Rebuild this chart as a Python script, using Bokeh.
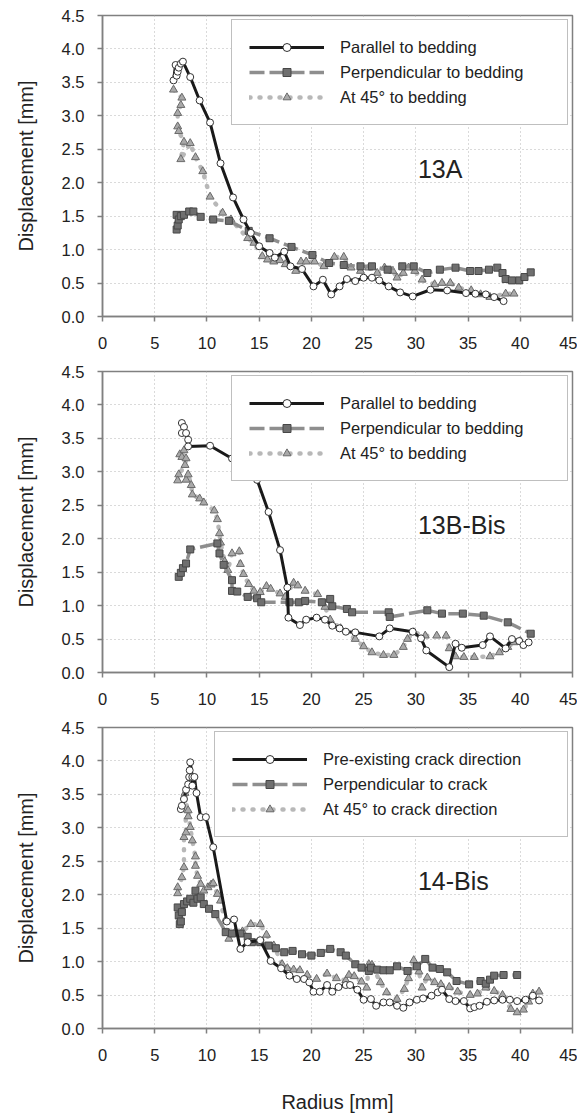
from bokeh.plotting import figure
from bokeh.layouts import column
from bokeh.models import Range1d, FixedTicker, PrintfTickFormatter, Legend, LegendItem, Label
from bokeh.embed import file_html
from bokeh.resources import INLINE

# ---------------- data ----------------
x_ticks = [0, 5, 10, 15, 20, 25, 30, 35, 40, 45]
y_ticks = [0.0, 0.5, 1.0, 1.5, 2.0, 2.5, 3.0, 3.5, 4.0, 4.5]

panel_names = ["13A", "13B-Bis", "14-Bis"]
legend_labels = [
    ["Parallel to bedding", "Perpendicular to bedding", "At 45\u00b0 to bedding"],
    ["Parallel to bedding", "Perpendicular to bedding", "At 45\u00b0 to bedding"],
    ["Pre-existing crack direction", "Perpendicular to crack", "At 45\u00b0 to crack direction"],
]

# 13A
par1_x = [6.8, 7.0, 7.1, 7.2, 7.3, 7.5, 7.7, 8.4, 9.3, 10.3, 11.3, 12.5, 13.5, 14.2, 15.0, 16.0, 16.5, 17.4, 18.0,
          19.1, 20.2, 21.1, 21.9, 22.7, 23.4, 24.2, 25.0, 25.8, 26.5, 27.4, 28.5, 29.7, 31.4, 33.0, 34.8, 35.7,
          36.7, 37.5, 38.4]
par1_y = [3.53, 3.76, 3.60, 3.66, 3.72, 3.78, 3.81, 3.58, 3.23, 2.90, 2.29, 1.78, 1.45, 1.25, 1.05, 0.95, 0.88, 0.97,
          0.75, 0.71, 0.45, 0.55, 0.33, 0.45, 0.56, 0.53, 0.58, 0.58, 0.54, 0.45, 0.36, 0.30, 0.40, 0.39, 0.35, 0.34,
          0.33, 0.29, 0.23]
perp1_x = [7.1, 7.1, 7.2, 7.3, 7.5, 7.8, 8.3, 8.7, 9.4, 10.6, 12.1, 14.0, 16.0, 18.1, 20.1, 21.7, 23.1, 24.7, 25.8,
           27.3, 28.7, 29.8, 31.1, 32.3, 33.8, 35.2, 36.0, 37.0, 37.8, 38.3, 38.6, 39.2, 39.9, 40.4, 41.0]
perp1_y = [1.52, 1.30, 1.36, 1.45, 1.50, 1.52, 1.57, 1.57, 1.49, 1.45, 1.43, 1.28, 1.17, 1.04, 0.92, 0.80, 0.77,
           0.75, 0.75, 0.70, 0.75, 0.75, 0.65, 0.70, 0.73, 0.68, 0.68, 0.70, 0.73, 0.65, 0.56, 0.54, 0.54, 0.59, 0.66]
diag1_x = [6.8, 7.6, 7.5, 7.2, 7.2, 7.3, 7.8, 7.5, 8.4, 8.9, 9.6, 10.3, 11.5, 12.3, 13.9, 14.5, 15.3, 15.8, 16.4,
           17.0, 17.5, 18.5, 19.0, 19.5, 20.3, 21.2, 22.2, 23.1, 23.8, 24.7, 25.5, 26.3, 27.0, 27.8, 28.2, 28.8,
           29.3, 29.9, 30.6, 31.8, 32.5, 33.3, 34.1, 35.3, 36.2, 37.1, 38.6, 39.4]
diag1_y = [3.39, 3.27, 3.16, 3.04, 2.84, 2.77, 2.61, 2.35, 2.59, 2.38, 2.17, 1.79, 1.55, 1.45, 1.17, 1.10, 0.90,
           0.85, 0.82, 0.84, 0.78, 0.68, 0.82, 0.82, 0.82, 0.75, 0.89, 0.89, 0.73, 0.68, 0.73, 0.65, 0.73, 0.68,
           0.58, 0.65, 0.73, 0.68, 0.55, 0.48, 0.50, 0.50, 0.43, 0.39, 0.33, 0.29, 0.34, 0.34]

# 13B-Bis
par2_x = [7.6, 7.8, 7.6, 8.0, 8.2, 8.2, 10.3, 12.4, 13.9, 14.8, 15.9, 17.0, 17.7, 17.8, 18.9, 19.5, 20.5, 21.3, 22.0,
          22.7, 23.3, 24.2, 26.5, 27.5, 29.7, 30.5, 31.0, 33.2, 33.8, 34.4, 36.4, 37.1, 38.6, 39.2, 39.9, 40.3, 40.8]
par2_y = [3.73, 3.67, 3.58, 3.58, 3.48, 3.38, 3.39, 3.20, 3.02, 2.88, 2.40, 1.83, 1.27, 0.82, 0.71, 0.79, 0.82, 0.79,
          0.70, 0.66, 0.61, 0.60, 0.54, 0.66, 0.61, 0.51, 0.33, 0.08, 0.43, 0.37, 0.41, 0.54, 0.36, 0.50, 0.47, 0.41,
          0.45]
perp2_x = [7.3, 7.5, 7.7, 8.0, 8.4, 11.0, 11.2, 11.6, 12.4, 12.4, 12.9, 13.9, 14.8, 15.2, 17.9, 18.8, 19.4, 21.0,
           21.8, 22.0, 23.4, 23.9, 27.4, 27.5, 31.1, 32.5, 34.5, 36.5, 38.8, 41.0]
perp2_y = [1.43, 1.49, 1.56, 1.63, 1.84, 1.93, 1.78, 1.61, 1.38, 1.22, 1.21, 1.13, 1.11, 1.05, 1.05, 1.05, 1.07,
           1.05, 1.10, 0.99, 0.95, 0.90, 0.90, 0.83, 0.93, 0.88, 0.88, 0.85, 0.75, 0.58]
diag2_x = [7.4, 7.8, 7.6, 8.0, 7.9, 7.3, 7.2, 8.0, 8.2, 8.5, 8.6, 9.3, 9.7, 10.7, 11.0, 11.2, 11.3, 11.7, 12.0, 12.4,
           13.1, 13.2, 13.5, 14.0, 14.5, 15.1, 15.7, 16.1, 17.0, 17.5, 18.3, 18.7, 19.4, 20.6, 21.3, 21.8, 22.8,
           24.2, 25.0, 25.8, 26.9, 27.9, 28.8, 29.2, 29.8, 30.9, 32.0, 32.9, 33.2, 33.8, 34.6, 35.6, 37.1, 38.0,
           38.8, 39.4, 40.0]
diag2_y = [3.26, 3.32, 3.22, 3.20, 3.10, 2.96, 2.87, 2.88, 2.96, 2.80, 2.66, 2.60, 2.54, 2.42, 2.29, 2.08, 1.94,
           1.66, 1.53, 1.78, 1.81, 1.62, 1.47, 1.32, 1.22, 1.20, 1.29, 1.25, 1.18, 1.13, 1.34, 1.30, 1.22, 1.17,
           0.98, 0.79, 0.66, 0.50, 0.39, 0.30, 0.26, 0.26, 0.38, 0.50, 0.60, 0.55, 0.55, 0.55, 0.36, 0.24, 0.23,
           0.23, 0.24, 0.30, 0.38, 0.45, 0.47]

# 14-Bis
par3_x = [7.5, 7.6, 7.8, 8.0, 8.2, 8.3, 8.35, 8.4, 8.6, 8.6, 8.8, 9.0, 9.4, 9.9, 10.6, 11.9, 12.6, 13.2, 13.9, 15.1,
          16.1, 17.1, 17.9, 18.6, 19.3, 19.8, 20.2, 20.8, 21.5, 22.0, 22.6, 23.3, 23.7, 24.4, 25.0, 25.7, 26.2,
          26.9, 27.5, 28.2, 28.8, 29.4, 30.1, 30.7, 31.5, 32.1, 32.5, 33.2, 33.8, 34.6, 35.2, 35.6, 36.1, 36.8,
          37.5, 38.3, 39.0, 39.7, 40.5, 41.2, 41.8]
par3_y = [3.28, 3.33, 3.43, 3.57, 3.65, 3.76, 3.86, 3.98, 3.76, 3.63, 3.76, 3.52, 3.16, 3.16, 2.71, 1.60, 1.63, 1.19,
          1.29, 1.32, 1.01, 0.90, 0.79, 0.74, 0.74, 0.69, 0.55, 0.55, 0.65, 0.55, 0.62, 0.65, 0.65, 0.58, 0.43,
          0.44, 0.34, 0.39, 0.39, 0.34, 0.31, 0.39, 0.43, 0.45, 0.49, 0.54, 0.58, 0.44, 0.41, 0.41, 0.30, 0.32,
          0.34, 0.40, 0.42, 0.43, 0.43, 0.41, 0.43, 0.49, 0.42]
perp3_x = [7.2, 7.3, 7.4, 7.5, 7.6, 7.8, 8.1, 8.4, 8.7, 8.9, 9.1, 9.4, 9.7, 10.2, 10.8, 11.8, 12.4, 13.2, 13.9, 14.3,
           15.1, 15.9, 16.6, 17.4, 18.2, 19.1, 20.0, 20.9, 21.8, 22.8, 23.3, 24.2, 24.8, 25.5, 25.7, 26.3, 26.9,
           27.5, 28.2, 29.2, 30.1, 30.9, 31.6, 32.3, 33.0, 33.9, 35.1, 36.2, 36.7, 37.1, 37.5, 38.4, 39.7]
perp3_y = [1.81, 1.69, 1.56, 1.60, 1.74, 1.86, 1.90, 1.94, 1.88, 2.06, 1.94, 1.96, 1.86, 1.79, 1.71, 1.44, 1.42,
           1.42, 1.37, 1.29, 1.29, 1.24, 1.20, 1.14, 1.16, 1.11, 1.09, 1.13, 1.19, 1.14, 1.09, 0.96, 0.91, 0.86,
           0.91, 0.88, 0.87, 0.87, 0.93, 0.86, 0.93, 1.04, 0.91, 0.89, 0.84, 0.71, 0.66, 0.71, 0.67, 0.73, 0.79,
           0.80, 0.80]
diag3_x = [7.2, 7.2, 7.6, 7.8, 7.8, 8.0, 7.9, 8.2, 8.2, 8.4, 8.6, 8.9, 8.9, 9.1, 9.4, 9.7, 10.1, 10.4, 10.6, 11.0,
           11.3, 11.7, 12.1, 12.7, 13.4, 14.2, 15.1, 15.7, 16.4, 17.2, 17.7, 18.3, 18.9, 19.6, 20.5, 21.5, 22.4,
           23.3, 23.6, 24.1, 24.8, 25.3, 25.5, 25.8, 26.6, 27.2, 28.2, 28.9, 29.3, 29.8, 30.3, 30.6, 31.1, 31.8,
           32.4, 33.2, 34.0, 35.2, 35.9, 36.7, 37.5, 38.3, 39.1, 39.7, 40.3, 40.8, 41.2, 41.8]
diag3_y = [2.11, 2.02, 2.26, 2.41, 2.86, 2.93, 3.52, 3.17, 3.26, 3.01, 2.81, 2.57, 2.43, 2.28, 2.16, 2.06, 2.11,
           2.15, 2.17, 2.01, 1.91, 1.60, 1.34, 1.44, 1.45, 1.56, 1.56, 1.40, 1.24, 0.96, 0.90, 0.88, 0.87, 0.80,
           0.74, 0.82, 0.75, 0.72, 0.80, 0.78, 0.70, 0.61, 0.96, 0.95, 0.69, 0.54, 0.44, 0.59, 0.75, 1.02, 0.85,
           0.61, 0.76, 0.69, 0.66, 0.62, 0.55, 0.50, 0.52, 0.61, 0.56, 0.50, 0.29, 0.24, 0.28, 0.40, 0.52, 0.55]

panels = [
    (par1_x, par1_y, perp1_x, perp1_y, diag1_x, diag1_y),
    (par2_x, par2_y, perp2_x, perp2_y, diag2_x, diag2_y),
    (par3_x, par3_y, perp3_x, perp3_y, diag3_x, diag3_y),
]

# ---------------- styling ----------------
FONT = "Liberation Sans"
TXT = "#222222"
AX = "#808080"

figs = []
for i, (px, py, qx, qy, dx, dy) in enumerate(panels):
    last = i == 2
    top = 15 if i == 0 else 7
    bottom = 89 if last else 48
    height = top + 301 + bottom
    p = figure(width=577, height=height, output_backend="svg", toolbar_location=None,
               x_range=Range1d(0, 45), y_range=Range1d(0, 4.5),
               min_border_left=102, min_border_right=5, min_border_top=top, min_border_bottom=bottom,
               background_fill_color="white", border_fill_color="white")
    p.outline_line_color = AX
    p.outline_line_width = 1.5

    for ax, ticks, fmt in ((p.xaxis[0], x_ticks, "%d"), (p.yaxis[0], y_ticks, "%.1f")):
        ax.ticker = FixedTicker(ticks=ticks)
        ax.formatter = PrintfTickFormatter(format=fmt)
        ax.axis_line_color = AX
        ax.axis_line_width = 1.5
        ax.major_tick_line_color = AX
        ax.major_tick_line_width = 1.5
        ax.major_tick_out = 5
        ax.major_tick_in = 0
        ax.minor_tick_line_color = None
        ax.major_label_text_font = FONT
        ax.major_label_text_font_size = "16.5px"
        ax.major_label_text_color = TXT
        ax.axis_label_text_font = FONT
        ax.axis_label_text_font_size = "20px"
        ax.axis_label_text_font_style = "normal"
        ax.axis_label_text_color = TXT
    p.xaxis.major_label_standoff = 15
    p.yaxis.major_label_standoff = 13
    p.yaxis.axis_label = "Displacement [mm]"
    p.yaxis.axis_label_standoff = 22
    if last:
        p.xaxis.axis_label = "Radius [mm]"
        p.xaxis.axis_label_standoff = 27

    for g in (p.xgrid[0], p.ygrid[0]):
        g.ticker = FixedTicker(ticks=x_ticks if g is p.xgrid[0] else y_ticks)
        g.grid_line_color = "#b4b4b4"
        g.grid_line_width = 1
        g.grid_line_dash = "1 3"

    # At 45 deg (dotted)
    dl = p.line(dx, dy, line_color="#b8b8b8", line_width=4.5, line_dash="1 9", line_cap="round")
    ds = p.scatter(dx, dy, marker="triangle", size=8, fill_color="#a9a9a9", line_color="#6a6a6a", line_width=1)
    # Perpendicular (dashed)
    ql = p.line(qx, qy, line_color="#8e8e8e", line_width=3.5, line_dash="15 5")
    qs = p.scatter(qx, qy, marker="square", size=7, fill_color="#6f6f6f", line_color="#474747", line_width=1)
    # Parallel (solid)
    pl = p.line(px, py, line_color="#1a1a1a", line_width=3)
    ps = p.scatter(px, py, marker="circle", size=7, fill_color="white", line_color="#333333", line_width=1)

    labels = legend_labels[i]
    lw = 227 if last else 210
    legend = Legend(items=[LegendItem(label=labels[0], renderers=[pl, ps]),
                           LegendItem(label=labels[1], renderers=[ql, qs]),
                           LegendItem(label=labels[2], renderers=[dl, ds])],
                    location="top_right", margin=4, padding=17, spacing=5,
                    glyph_width=75, glyph_height=20, label_standoff=16, label_width=lw,
                    label_text_font=FONT, label_text_font_size="16.5px", label_text_color=TXT,
                    border_line_color=AX, border_line_width=1.5,
                    background_fill_color="white", background_fill_alpha=1.0)
    p.add_layout(legend, "center")

    p.add_layout(Label(x=30.2, y=2.2, text=panel_names[i], text_font=FONT, text_font_size="25px",
                       text_color=TXT, text_baseline="middle", text_align="left"))
    figs.append(p)

layout = column(*figs)
open("out.html", "w").write(file_html(layout, INLINE))
